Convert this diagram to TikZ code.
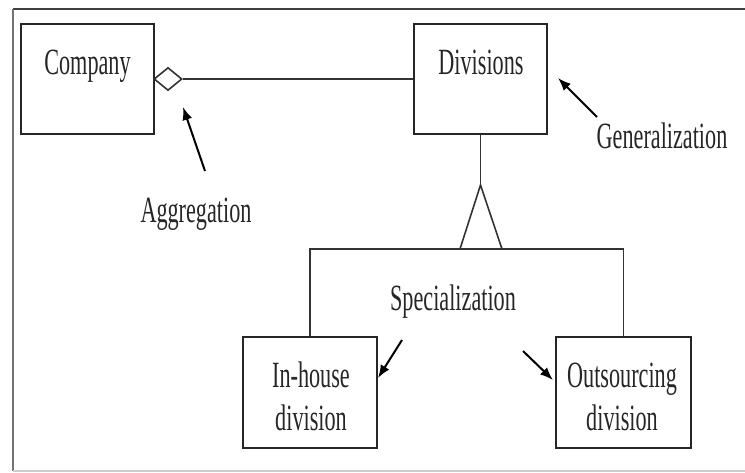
\documentclass[tikz,border=0pt]{standalone}
\usepackage{fontspec}
\setmainfont{Liberation Serif}[FakeStretch=0.6]
\usetikzlibrary{arrows.meta,shapes.geometric}
\begin{document}
\begin{tikzpicture}[x=1pt,y=-1pt,
  umlbox/.style={draw=black!85, line width=1.8pt, minimum width=133pt,
    minimum height=110pt, inner sep=0pt},
  lbl/.style={inner sep=0pt, anchor=base, text=black!85,
    font=\fontsize{37}{43}\selectfont, align=center},
  link/.style={draw=black!80, line width=1.6pt},
  pointer/.style={draw=black, line width=2pt,
    -{Latex[length=13pt,width=10pt]}}]
  \useasboundingbox (0,0) rectangle (745,472);

  % outer frame, open on the right
  \draw[black!75, line width=2.6pt] (13,9) -- (745,9);
  \draw[black!55, line width=2.6pt] (13,9) -- (13,471);
  \draw[black!20, line width=1.5pt] (13,471) -- (745,471);

  % classes
  \node[umlbox] (company) at (87.5,79) {};
  \node[umlbox] (divisions) at (480.5,79) {};
  \node[umlbox, minimum width=134pt, minimum height=111pt] (inhouse) at (310,392.5) {};
  \node[umlbox, minimum width=135pt, minimum height=111pt] (outsourcing) at (623.5,392.5) {};

  \node[lbl] (tcompany) at (87.5,74) {Company};
  \node[lbl] (tdivisions) at (481,74) {Divisions};
  % base anchor of a two-line node sits on the last line
  \node[lbl] (tinhouse) at (311,430) {In-house\\division};
  \node[lbl] (toutsourcing) at (622,430) {Outsourcing\\division};

  % aggregation: Company <>---- Divisions
  \node[diamond, draw=black!80, line width=1.6pt, fill=white,
    minimum width=28pt, minimum height=23pt, inner sep=0pt] (agg) at (168,79) {};
  \draw[link] (agg.east) -- (divisions.west);

  % generalization triangle and the bus to the subclasses
  \coordinate (gapex) at (480.5,185);
  \coordinate (gl) at (460,249);
  \coordinate (gr) at (502,249);
  \draw[link] (divisions.south) -- (gapex);
  \draw[link, line join=miter] (gl) -- (gapex) -- (gr) -- cycle;
  \draw[link] (inhouse.north) |- (gl);
  \draw[link] (outsourcing.north) |- (gr);

  % annotations
  \node[lbl] (taggregation) at (196,222) {Aggregation};
  \node[lbl] (tgeneralization) at (662,148) {Generalization};
  \node[lbl] (tspecialization) at (453,310) {Specialization};

  \coordinate (aggtail) at (205,171);
  \coordinate (aggtip) at (183,107);
  \coordinate (gentail) at (597,117);
  \coordinate (gentip) at (558,78);
  \coordinate (sptailL) at (402,340);
  \coordinate (sptipL) at (378,378);
  \coordinate (sptailR) at (523,351);
  \coordinate (sptipR) at (553,380);

  \draw[pointer] (aggtail) -- (aggtip);
  \draw[pointer] (gentail) -- (gentip);
  \draw[pointer] (sptailL) -- (sptipL);
  \draw[pointer] (sptailR) -- (sptipR);
\end{tikzpicture}
\end{document}
